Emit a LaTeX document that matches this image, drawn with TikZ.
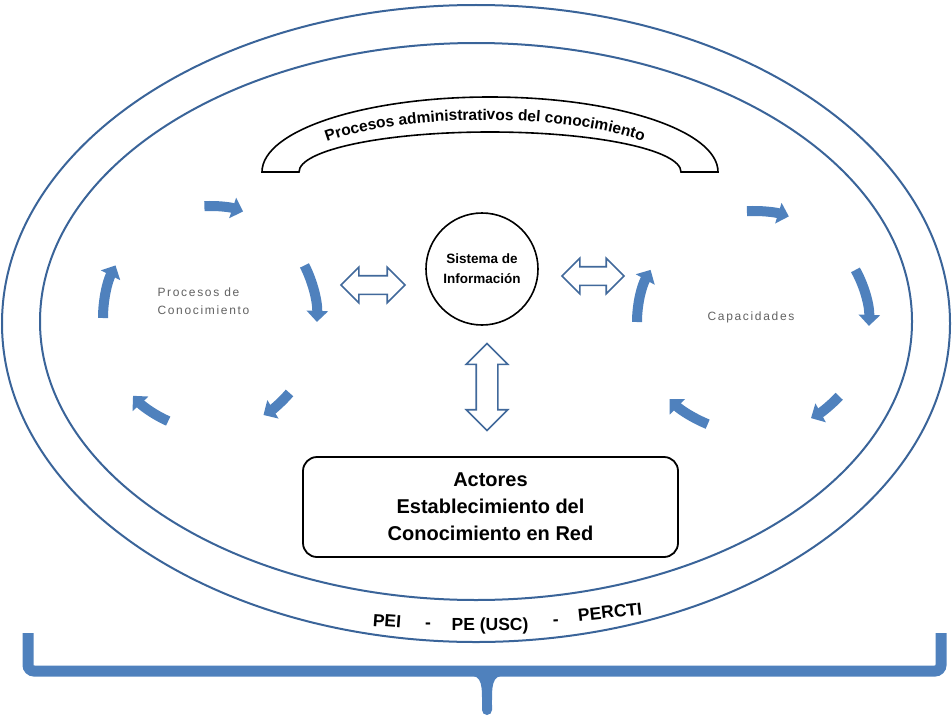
\documentclass[tikz,border=0pt]{standalone}
\usepackage{fontspec}
\setmainfont{Liberation Sans}
\newfontfamily\spacedfont[LetterSpace=14]{Liberation Sans}
\usetikzlibrary{shapes.arrows,arrows.meta,decorations.text}
\definecolor{ringblue}{HTML}{3A6499}
\definecolor{cycblue}{HTML}{4F81BD}
\definecolor{outblue}{HTML}{41699B}

\begin{document}
\begin{tikzpicture}[x=1pt,y=-1pt,
  ring/.style={draw=ringblue, line width=2},
  cyc/.style={draw=cycblue, line width=10, -{Triangle[width=21pt,length=11pt]}},
  darrow/.style={double arrow, draw=outblue, line width=1.6, fill=white,
    inner sep=0pt, inner ysep=8.5pt, double arrow head extend=8.5pt},
  cyclabel/.style={text=black!62, font=\spacedfont\fontsize{12}{18}\selectfont, align=left},
  ringtext/.style={font=\bfseries\fontsize{17.5}{18}\selectfont},
]
\useasboundingbox (0,0) rectangle (952,717);

% outer and inner rings
\draw[ring] (476,323.5) ellipse[x radius=474, y radius=318.5];
\draw[ring] (476,321.5) ellipse[x radius=436, y radius=278.5];

% arch band with its title
\draw[fill=white, line width=1.6]
  (262,172) arc[start angle=180, end angle=360, x radius=228, y radius=75]
  -- (681,172) arc[start angle=360, end angle=180, x radius=191, y radius=40]
  -- cycle;
\path[decorate, decoration={text along path, text align=center,
  text={|\bfseries\fontsize{15.5}{17}\selectfont|Procesos administrativos del conocimiento}}]
  (290,172) arc[start angle=180, end angle=360, x radius=195, y radius=52];

% central nodes
\node[circle, draw, line width=1.6, minimum size=112, align=center,
  font=\bfseries\fontsize{13.5}{20}\selectfont] (sis) at (482,269) {Sistema de\\Información};
\node[draw, line width=1.8, rounded corners=14, minimum width=375, minimum height=100,
  align=center, font=\bfseries\fontsize{20}{27}\selectfont] (act) at (490.5,507)
  {Actores\\Establecimiento del\\Conocimiento en Red};

% hollow double arrows
\node[darrow, minimum height=64, minimum width=34] (arrL) at (373,285) {};
\node[darrow, minimum height=62, minimum width=34] (arrR) at (593,276) {};
\node[darrow, minimum height=87, minimum width=40, inner ysep=10pt,
  double arrow head extend=10pt, rotate=90] (arrV) at (487,387) {};

% cycle of knowledge processes
\coordinate (cL) at (210,318);
\foreach \a/\b in {93/72, 28/-2, -42/-60, -113/-136, 180/152}
  \draw[cyc] (cL) ++({-\a}:107 and 112)
    arc[start angle={-\a}, end angle={-\b}, x radius=107, y radius=112];
\node[cyclabel, anchor=west] (procL) at (154,301) {Procesos de\\Conocimiento};

% cycle of capacities
\coordinate (cR) at (753,322);
\foreach \a/\b in {93/72, 28/-2, -42/-60, -113/-136, 180/152}
  \draw[cyc] (cR) ++({-\a}:116 and 111)
    arc[start angle={-\a}, end angle={-\b}, x radius=116, y radius=111];
\node[cyclabel] (capR) at (751,317) {Capacidades};

% text between the rings
\node[ringtext, rotate=-4] (pei) at (387,621) {PEI};
\node[ringtext] (d1) at (428,626) {-};
\node[ringtext] (pe) at (490,626) {PE (USC)};
\node[ringtext, rotate=3] (d2) at (556,623) {-};
\node[ringtext, rotate=6] (percti) at (610,612) {PERCTI};

% bracket underneath
\coordinate (bL) at (28,633);
\coordinate (bR) at (941,633);
\draw[draw=cycblue, line width=11, rounded corners=6]
  (bL) -- (28,671) -- (941,671) -- (bR);
\fill[cycblue] (468,675) .. controls (483,676) and (482,684) .. (482,710)
  arc[start angle=180, end angle=0, radius=5]
  .. controls (492,684) and (491,676) .. (506,675) -- cycle;
\end{tikzpicture}
\end{document}
